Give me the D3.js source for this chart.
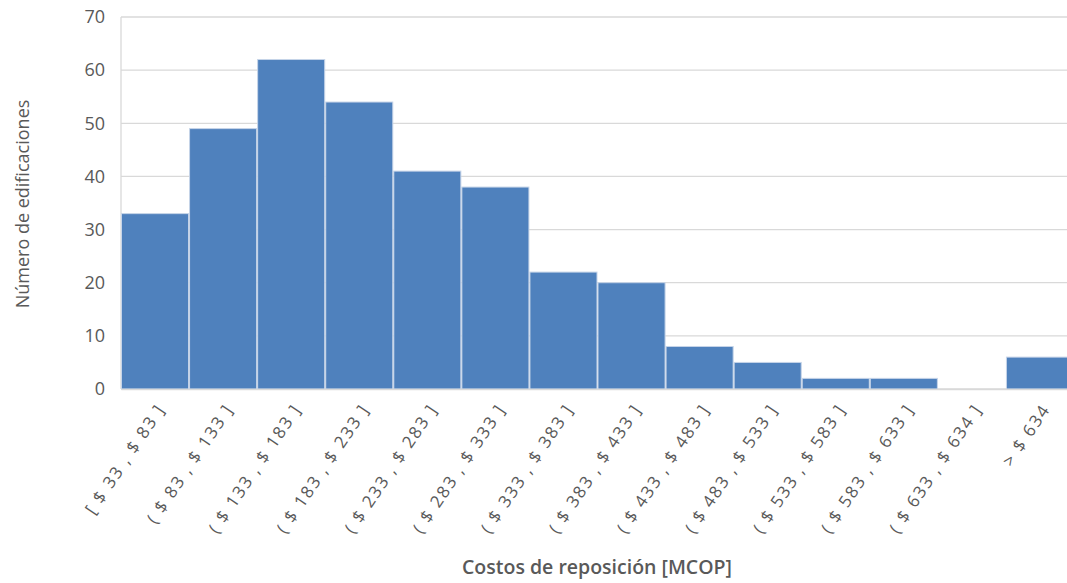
<!DOCTYPE html>
<html><head><meta charset="utf-8">
<script src="https://cdn.jsdelivr.net/npm/d3@7"></script>
<style>body{margin:0;background:#fff;} svg{display:block;}</style>
</head><body><svg id="c" width="1067" height="583"></svg>
<script>
const categories = ["[ $ 33 , $ 83 ]","( $ 83 , $ 133 ]","( $ 133 , $ 183 ]","( $ 183 , $ 233 ]","( $ 233 , $ 283 ]","( $ 283 , $ 333 ]","( $ 333 , $ 383 ]","( $ 383 , $ 433 ]","( $ 433 , $ 483 ]","( $ 483 , $ 533 ]","( $ 533 , $ 583 ]","( $ 583 , $ 633 ]","( $ 633 , $ 634 ]","> $ 634"];
const values = [33,49,62,54,41,38,22,20,8,5,2,2,0,6];
const yTicks = [0,10,20,30,40,50,60,70];

const svg = d3.select("#c");
const font = "'Open Sans', sans-serif";
const x = d3.scaleBand().domain(categories).range([121,1074]).padding(0);
const y = d3.scaleLinear().domain([0,70]).range([389,17]);

// gridlines
svg.append("g").selectAll("line").data(yTicks).join("line")
  .attr("x1",121).attr("x2",1067).attr("y1",d=>y(d)).attr("y2",d=>y(d))
  .attr("stroke","#d9d9d9").attr("stroke-width",1.3);
svg.append("line").attr("x1",121).attr("x2",121).attr("y1",17).attr("y2",389)
  .attr("stroke","#d9d9d9").attr("stroke-width",1.3);

// bars
svg.append("g").selectAll("rect").data(values).join("rect")
  .attr("x",(d,i)=>x(categories[i])+0.5)
  .attr("width",x.bandwidth()-1)
  .attr("y",d=>y(d))
  .attr("height",d=>y(0)-y(d))
  .attr("fill","#4f81bd").attr("stroke","#c6d4e8").attr("stroke-width",1);

// y axis
const ya = svg.append("g").attr("transform","translate(121,0)")
  .call(d3.axisLeft(y).tickValues(yTicks).tickSize(0).tickPadding(16));
ya.select(".domain").remove();
ya.selectAll("text").attr("font-family",font).attr("font-size",18).attr("fill","#595959");

// x axis
const xa = svg.append("g").attr("transform","translate(0,389)")
  .call(d3.axisBottom(x).tickSize(0));
xa.select(".domain").attr("stroke","#d9d9d9").attr("stroke-width",1.3);
xa.selectAll("text").attr("font-family",font).attr("font-size",17).attr("fill","#595959")
  .attr("letter-spacing",1.9)
  .attr("text-anchor","end").attr("dy",0).attr("y",0)
  .attr("transform","translate(11,20) rotate(-56)");

// axis titles
svg.append("text").attr("x",597).attr("y",574).attr("text-anchor","middle")
  .attr("font-family",font).attr("font-size",19.5).attr("font-weight",600).attr("fill","#595959")
  .text("Costos de reposición [MCOP]");
svg.append("text").attr("transform","translate(29,204) rotate(-90)").attr("text-anchor","middle")
  .attr("font-family",font).attr("font-size",18).attr("fill","#595959")
  .text("Número de edificaciones");
</script></body></html>
